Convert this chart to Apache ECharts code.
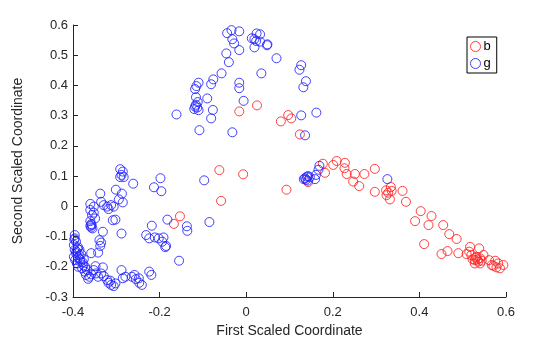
<!DOCTYPE html>
<html>
<head>
<meta charset="utf-8">
<script src="https://cdn.jsdelivr.net/npm/echarts@6/dist/echarts.min.js"></script>
<style>
  html, body { margin: 0; padding: 0; background: #fff; }
  #chart { width: 560px; height: 337px; }
</style>
</head>
<body>
<div id="chart"></div>
<script>
// Class labels shown in the legend
const classNames = ['b', 'g'];

// Axis tick positions
const xTicks = [-0.4, -0.2, 0, 0.2, 0.4, 0.6];
const yTicks = [-0.3, -0.2, -0.1, 0, 0.1, 0.2, 0.3, 0.4, 0.5, 0.6];

// Class "b": [first scaled coordinate, second scaled coordinate]
const bPoints = [
  [-0.167, -0.058], [-0.153, -0.033], [-0.062, 0.120], [-0.058, 0.018], [-0.007, 0.106],
  [-0.016, 0.314], [0.025, 0.334], [0.093, 0.055], [0.080, 0.281], [0.097, 0.302],
  [0.104, 0.291], [0.124, 0.238], [0.143, 0.080], [0.177, 0.141], [0.182, 0.111],
  [0.201, 0.137], [0.209, 0.150], [0.228, 0.144], [0.227, 0.126], [0.232, 0.107],
  [0.251, 0.107], [0.247, 0.082], [0.261, 0.067], [0.273, 0.107], [0.297, 0.124],
  [0.297, 0.048], [0.323, 0.053], [0.328, 0.045], [0.334, 0.064], [0.336, 0.051],
  [0.332, 0.023], [0.324, 0.037], [0.361, 0.051], [0.369, 0.015], [0.403, -0.016],
  [0.390, -0.049], [0.428, -0.032], [0.421, -0.062], [0.455, -0.062], [0.469, -0.092],
  [0.486, -0.108], [0.411, -0.125], [0.451, -0.158], [0.465, -0.148], [0.490, -0.155],
  [0.509, -0.158], [0.517, -0.134], [0.538, -0.139], [0.515, -0.150], [0.520, -0.161],
  [0.532, -0.167], [0.540, -0.172], [0.528, -0.178], [0.536, -0.183], [0.544, -0.180],
  [0.548, -0.161], [0.523, -0.175], [0.540, -0.189], [0.528, -0.189], [0.561, -0.178],
  [0.575, -0.180], [0.567, -0.194], [0.582, -0.189], [0.594, -0.194], [0.586, -0.205],
  [0.578, -0.202], [0.571, -0.197], [0.530, -0.170], [0.534, -0.176]
];

// Class "g", upper arch
const gUpper = [
  [-0.161, 0.304], [-0.108, 0.252], [-0.032, 0.245],
  [-0.118, 0.330], [-0.120, 0.322], [-0.113, 0.327], [-0.110, 0.318], [-0.116, 0.336],
  [-0.112, 0.345], [-0.116, 0.361], [-0.090, 0.357], [-0.077, 0.319], [-0.081, 0.291],
  [-0.118, 0.388], [-0.115, 0.398], [-0.110, 0.409], [-0.081, 0.404], [-0.076, 0.420],
  [-0.057, 0.440], [-0.040, 0.477], [-0.046, 0.506], [-0.016, 0.517], [-0.016, 0.409],
  [-0.016, 0.391], [-0.006, 0.349], [-0.044, 0.573], [-0.034, 0.583], [-0.016, 0.579],
  [-0.032, 0.553], [-0.028, 0.539], [0.013, 0.556], [0.019, 0.553], [0.024, 0.572],
  [0.032, 0.569], [0.023, 0.547], [0.032, 0.545], [0.019, 0.526], [0.049, 0.536],
  [0.048, 0.533], [0.035, 0.440], [0.070, 0.490], [0.127, 0.467], [0.123, 0.452],
  [0.138, 0.414], [0.132, 0.394], [0.127, 0.301], [0.136, 0.235], [0.162, 0.310]
];

// Class "g", middle and right-hand group
const gMiddle = [
  [-0.198, 0.093], [-0.213, 0.063], [-0.196, 0.050], [-0.097, 0.086],
  [-0.182, -0.044], [-0.085, -0.052], [-0.137, -0.066], [-0.136, -0.081], [-0.218, -0.064],
  [-0.231, -0.095], [-0.224, -0.106], [-0.211, -0.103], [-0.202, -0.106], [-0.191, -0.103],
  [-0.194, -0.117], [-0.185, -0.131], [-0.187, -0.135], [-0.155, -0.180],
  [0.136, 0.093], [0.140, 0.098], [0.143, 0.100], [0.147, 0.096], [0.138, 0.088],
  [0.159, 0.090], [0.161, 0.104], [0.169, 0.134], [0.167, 0.121], [0.142, 0.085],
  [0.133, 0.090], [0.326, 0.090]
];

// Class "g", left-hand group
const gLeft = [
  [-0.291, 0.123], [-0.285, 0.115], [-0.288, 0.104], [-0.283, 0.097], [-0.291, 0.097],
  [-0.261, 0.075], [-0.301, 0.055], [-0.287, 0.042], [-0.294, 0.023], [-0.285, 0.013],
  [-0.337, 0.042], [-0.360, 0.008], [-0.352, -0.001], [-0.360, -0.012], [-0.352, -0.021],
  [-0.356, -0.029], [-0.349, -0.040], [-0.335, 0.015], [-0.329, 0.004], [-0.321, -0.001],
  [-0.312, 0.004], [-0.306, -0.001], [-0.318, -0.009], [-0.308, -0.046], [-0.302, -0.044],
  [-0.360, -0.049], [-0.358, -0.059], [-0.360, -0.065], [-0.358, -0.070], [-0.355, -0.073],
  [-0.357, -0.062], [-0.288, -0.090], [-0.331, -0.084], [-0.339, -0.112], [-0.337, -0.131],
  [-0.335, -0.120], [-0.342, -0.153], [-0.358, -0.155],
  [-0.396, -0.095], [-0.396, -0.106], [-0.393, -0.117], [-0.398, -0.128], [-0.388, -0.136],
  [-0.396, -0.144], [-0.385, -0.144], [-0.393, -0.155], [-0.381, -0.158], [-0.398, -0.167],
  [-0.388, -0.169], [-0.375, -0.175], [-0.395, -0.178], [-0.391, -0.189], [-0.383, -0.183],
  [-0.388, -0.200], [-0.379, -0.205], [-0.373, -0.216], [-0.370, -0.227], [-0.362, -0.233],
  [-0.365, -0.240], [-0.358, -0.225], [-0.352, -0.211], [-0.348, -0.198], [-0.347, -0.222],
  [-0.342, -0.233], [-0.335, -0.222], [-0.331, -0.202], [-0.329, -0.231], [-0.321, -0.244],
  [-0.318, -0.253], [-0.312, -0.260], [-0.306, -0.264], [-0.302, -0.255], [-0.314, -0.246],
  [-0.288, -0.211], [-0.285, -0.238], [-0.279, -0.233], [-0.264, -0.233], [-0.258, -0.227],
  [-0.255, -0.241], [-0.248, -0.238], [-0.247, -0.253], [-0.241, -0.260], [-0.224, -0.216],
  [-0.219, -0.227],
  [-0.397, -0.110], [-0.390, -0.140], [-0.385, -0.162], [-0.392, -0.150], [-0.384, -0.175],
  [-0.378, -0.185], [-0.376, -0.195], [-0.372, -0.200], [-0.368, -0.210]
];

const gPoints = gUpper.concat(gMiddle, gLeft);

const RED = '#ff2020';
const BLUE = '#2020ff';
const font = '"Liberation Sans", Arial, Helvetica, sans-serif';

function markerSeries(name, data, color) {
  return {
    name: name,
    type: 'scatter',
    data: data,
    symbol: 'circle',
    symbolSize: 9,
    itemStyle: { color: 'rgba(0,0,0,0)', borderColor: color, borderWidth: 1, opacity: 0.85 },
    emphasis: { disabled: true },
    silent: true
  };
}

const axisCommon = {
  type: 'value',
  nameLocation: 'middle',
  nameTextStyle: { fontFamily: font, fontSize: 14, color: '#262626' },
  axisLine: { onZero: false, lineStyle: { color: '#262626', width: 1 } },
  axisTick: { inside: true, length: 5, lineStyle: { color: '#262626' } },
  axisLabel: { fontFamily: font, fontSize: 13, color: '#262626', margin: 6,
    formatter: v => String(+v.toFixed(1)) },
  splitLine: { show: false }
};

const chart = echarts.init(document.getElementById('chart'), null, { renderer: 'canvas' });
chart.setOption({
  animation: false,
  backgroundColor: '#ffffff',
  grid: { left: 73, right: 54, top: 25, bottom: 40, containLabel: false, outerBoundsMode: 'none' },
  legend: {
    orient: 'vertical',
    left: 467,
    top: 37,
    itemWidth: 10,
    itemHeight: 10,
    itemGap: 4,
    padding: [3, 6, 3, 3],
    borderColor: '#000',
    borderWidth: 1,
    icon: 'circle',
    textStyle: { fontFamily: font, fontSize: 13, color: '#000', padding: [0, 0, 0, -2] },
    data: [
      { name: classNames[0], itemStyle: { color: 'rgba(0,0,0,0)', borderColor: RED, borderWidth: 1 } },
      { name: classNames[1], itemStyle: { color: 'rgba(0,0,0,0)', borderColor: BLUE, borderWidth: 1 } }
    ]
  },
  xAxis: Object.assign({}, axisCommon, {
    min: xTicks[0],
    max: xTicks[xTicks.length - 1],
    interval: 0.2,
    name: 'First Scaled Coordinate',
    nameGap: 25,
    axisLabel: Object.assign({}, axisCommon.axisLabel, { margin: 9 })
  }),
  yAxis: Object.assign({}, axisCommon, {
    min: yTicks[0],
    max: yTicks[yTicks.length - 1],
    interval: 0.1,
    name: 'Second Scaled Coordinate',
    nameGap: 48,
    axisLabel: Object.assign({}, axisCommon.axisLabel, { margin: 5 })
  }),
  series: [
    markerSeries(classNames[0], bPoints, RED),
    markerSeries(classNames[1], gPoints, BLUE)
  ]
});
</script>
</body>
</html>
